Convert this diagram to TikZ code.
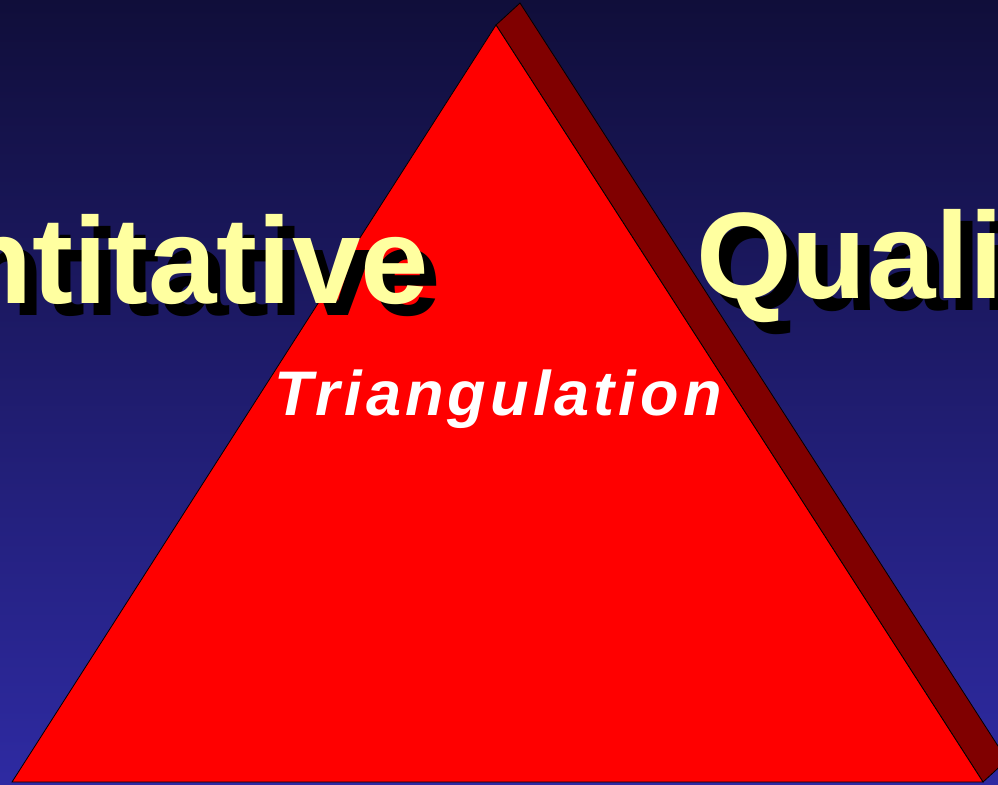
\documentclass[tikz,border=0pt]{standalone}
\usepackage{fontspec}
\setmainfont{Liberation Sans}
\newfontfamily\trifont{Liberation Sans}[LetterSpace=6.5]
\definecolor{bgtop}{RGB}{16,14,58}
\definecolor{bgbot}{RGB}{46,42,162}
\definecolor{yel}{RGB}{255,255,160}
\definecolor{sidered}{RGB}{128,0,0}
\tikzset{
  bigword/.style={inner sep=0pt, font=\fontsize{123}{123}\selectfont\bfseries, text=yel},
  bigshadow/.style={inner sep=0pt, font=\fontsize{123}{123}\selectfont\bfseries, text=black},
  face/.style={fill=red, draw=black, line width=0.8pt, line join=miter},
  sideface/.style={fill=sidered, draw=black, line width=0.8pt, line join=miter},
  trilabel/.style={inner sep=0pt, font=\trifont\fontsize{63}{63}\selectfont\bfseries\itshape, text=white}
}
\begin{document}
\begin{tikzpicture}[x=1pt,y=-1pt]
\useasboundingbox (0,0) rectangle (998,784);
\clip (0,0) rectangle (998,784);
\shade[top color=bgtop, bottom color=bgbot] (0,0) rectangle (998,784);
% triangle vertices
\coordinate (apex) at (496,25);
\coordinate (apexback) at (520,3);
\coordinate (bl) at (12,782);
\coordinate (br) at (983,782);
\coordinate (brback) at (1007,760);
\path[sideface] (apex) -- (apexback) -- (brback) -- (br) -- cycle;
\path[face] (apex) -- (bl) -- (br) -- cycle;
% words
\node[bigshadow, anchor=base east] (quantshadow) at (441,315) {Quantitative};
\node[bigword, anchor=base east] (quant) at (429,303) {Quantitative};
\node[bigshadow, anchor=base west] (qualshadow) at (708,310) {Qualitative};
\node[bigword, anchor=base west] (qual) at (696,298) {Qualitative};
\node[trilabel, anchor=base] (tri) at (498,415) {Triangulation};
\end{tikzpicture}
\end{document}
